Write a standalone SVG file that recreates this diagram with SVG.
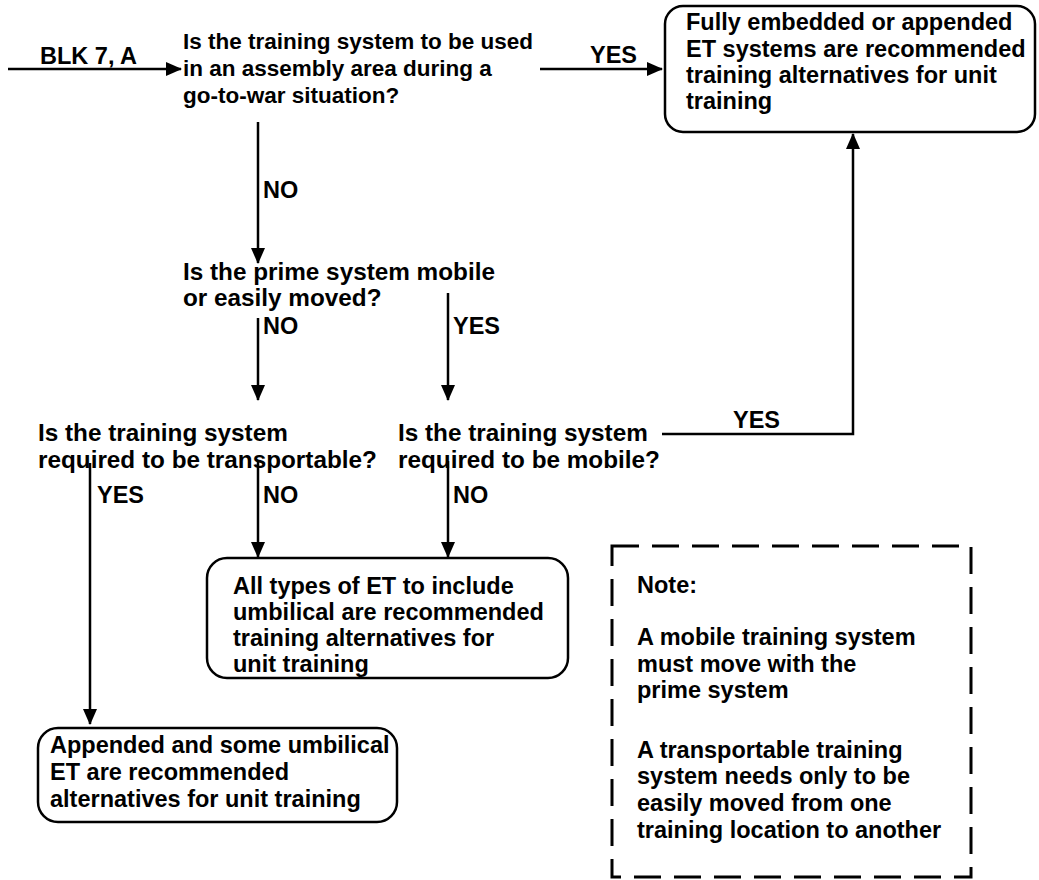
<svg xmlns="http://www.w3.org/2000/svg" width="1039" height="880" viewBox="0 0 1039 880">
  <defs>
    <marker id="arrow" viewBox="0 0 16 14" refX="15" refY="7" markerWidth="16" markerHeight="14" markerUnits="userSpaceOnUse" orient="auto">
      <path d="M0,0 L16,7 L0,14 z" fill="#000"/>
    </marker>
    <style>
      text { font-family: "Liberation Sans", Arial, sans-serif; font-weight: bold; font-size: 23.5px; fill: #000; }
      .q1 text { font-size: 22.5px; }
      .qw text { font-size: 24.3px; }
      .box { fill: none; stroke: #000; stroke-width: 2.5; }
      .line { fill: none; stroke: #000; stroke-width: 2.5; }
      .arr { marker-end: url(#arrow); }
      .note { fill: none; stroke: #000; stroke-width: 3; stroke-dasharray: 27 13; }
    </style>
  </defs>
  <rect width="1039" height="880" fill="#fff"/>

  <!-- connectors and their labels -->
  <g id="connectors">
    <path class="line arr" d="M8,69 H181"/>
    <text x="40" y="64">BLK 7, A</text>
    <path class="line arr" d="M540,69 H662"/>
    <text x="590" y="63">YES</text>
    <path class="line arr" d="M258,122 V263"/>
    <text x="263" y="198">NO</text>
    <path class="line arr" d="M258,318 V400"/>
    <text x="263" y="334">NO</text>
    <path class="line arr" d="M448,293 V400"/>
    <text x="453" y="334">YES</text>
    <path class="line arr" d="M662,434 H853 V134"/>
    <text x="733" y="428">YES</text>
    <path class="line arr" d="M90,463 V724"/>
    <text x="97" y="503">YES</text>
    <path class="line arr" d="M258,461 V557"/>
    <text x="263" y="503">NO</text>
    <path class="line arr" d="M448,461 V557"/>
    <text x="453" y="503">NO</text>
  </g>

  <g id="q-assembly" class="q1">
    <text x="183" y="49">Is the training system to be used</text>
    <text x="183" y="76">in an assembly area during a</text>
    <text x="183" y="103">go-to-war situation?</text>
  </g>

  <g id="r-embedded">
    <rect class="box" x="665" y="6" width="370" height="126" rx="18"/>
    <text x="686" y="30">Fully embedded or appended</text>
    <text x="686" y="57">ET systems are recommended</text>
    <text x="686" y="83">training alternatives for unit</text>
    <text x="686" y="109">training</text>
  </g>

  <g id="q-prime-mobile" class="qw">
    <text x="183" y="280">Is the prime system mobile</text>
    <text x="183" y="306">or easily moved?</text>
  </g>

  <g id="q-transportable" class="qw">
    <text x="38" y="441">Is the training system</text>
    <text x="38" y="468">required to be transportable?</text>
  </g>

  <g id="q-mobile" class="qw">
    <text x="398" y="441">Is the training system</text>
    <text x="398" y="468">required to be mobile?</text>
  </g>

  <g id="r-all-types">
    <rect class="box" x="207" y="558" width="361" height="120" rx="20"/>
    <text x="233" y="594">All types of ET to include</text>
    <text x="233" y="620">umbilical are recommended</text>
    <text x="233" y="646">training alternatives for</text>
    <text x="233" y="672">unit training</text>
  </g>

  <g id="r-appended">
    <rect class="box" x="38" y="728" width="359" height="94" rx="20"/>
    <text x="50" y="753">Appended and some umbilical</text>
    <text x="50" y="780">ET are recommended</text>
    <text x="50" y="807">alternatives for unit training</text>
  </g>

  <g id="note">
    <rect class="note" x="612" y="546" width="359" height="331"/>
    <text x="637" y="593">Note:</text>
    <text x="637" y="645">A mobile training system</text>
    <text x="637" y="672">must move with the</text>
    <text x="637" y="698">prime system</text>
    <text x="637" y="758">A transportable training</text>
    <text x="637" y="784">system needs only to be</text>
    <text x="637" y="811">easily moved from one</text>
    <text x="637" y="838">training location to another</text>
  </g>
</svg>
